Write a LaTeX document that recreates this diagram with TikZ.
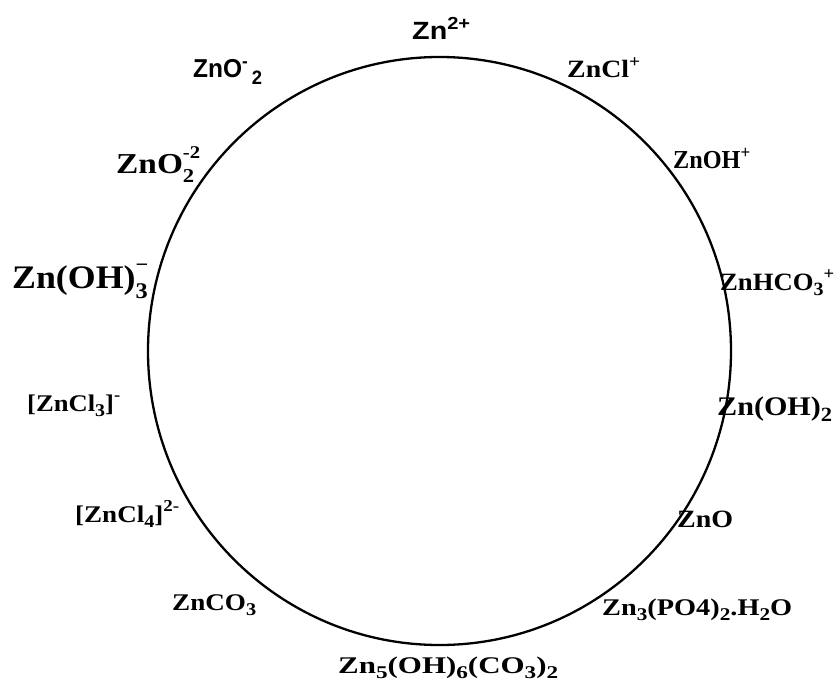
\documentclass[tikz,border=0pt]{standalone}
\usepackage{fontspec}
\usepackage{graphicx}
\setmainfont{Liberation Serif}
\newfontfamily\labsans{Liberation Sans}
\newcommand{\sps}[1]{\raisebox{0.42em}{\scalebox{0.7}{#1}}}
\newcommand{\sbs}[1]{\raisebox{-0.24em}{\scalebox{0.75}{#1}}}
\newcommand{\stk}[2]{\makebox[0pt][l]{\raisebox{-0.32em}{\scalebox{0.68}{#2}}}\raisebox{0.5em}{\scalebox{0.62}{#1}}}
\newcommand{\lw}[2]{\resizebox{#1bp}{\height}{#2}}
\begin{document}
\begin{tikzpicture}[x=1bp,y=-1bp,
  lab/.style={anchor=base west,inner sep=0pt,font=\fontsize{25}{27}\selectfont\bfseries},
  labs/.style={anchor=base west,inner sep=0pt,font=\fontsize{25}{27}\selectfont\labsans\bfseries}]
\useasboundingbox[fill=white] (0,0) rectangle (837,684);
\draw[line width=2.3bp] (439.5,351) ellipse [x radius=291.5, y radius=294];
\node[labs] (zn) at (412,40) {\lw{58}{Zn\sps{2+}}};
\node[labs,font=\fontsize{26}{28}\selectfont\labsans\bfseries] (zno2m) at (193,78) {\lw{69}{ZnO\sps{-}\,\sbs{2}}};
\node[lab] (zncl) at (567,78) {\lw{73}{ZnCl\sps{+}}};
\node[lab,font=\fontsize{29}{31}\selectfont\bfseries] (zno22) at (116,173) {\lw{84}{ZnO\stk{-2}{2}}};
\node[lab,font=\fontsize{26}{28}\selectfont\bfseries] (znoh) at (673,169) {\lw{77}{ZnOH\sps{+}}};
\node[lab,font=\fontsize{33}{35}\selectfont\bfseries] (znoh3) at (12,288) {\lw{136}{Zn(OH)\stk{\textminus}{3}}};
\node[lab] (znhco3) at (720,290) {\lw{114}{ZnHCO\sbs{3}\sps{+}}};
\node[lab,font=\fontsize{24}{26}\selectfont\bfseries] (zncl3) at (27,411) {\lw{93}{[ZnCl\sbs{3}]\sps{-}}};
\node[lab,font=\fontsize{27}{29}\selectfont\bfseries] (znoh2) at (717,415) {\lw{115}{Zn(OH)\sbs{2}}};
\node[lab,font=\fontsize{24}{26}\selectfont\bfseries] (zncl4) at (75,522) {\lw{104}{[ZnCl\sbs{4}]\sps{2-}}};
\node[lab] (zno) at (677,527) {\lw{56}{ZnO}};
\node[lab,font=\fontsize{24}{26}\selectfont\bfseries] (znco3) at (172,610) {\lw{84}{ZnCO\sbs{3}}};
\node[lab,font=\fontsize{24}{26}\selectfont\bfseries] (znpo) at (602,615) {\lw{190}{Zn\sbs{3}(PO4)\sbs{2}.H\sbs{2}O}};
\node[lab,font=\fontsize{24}{26}\selectfont\bfseries] (znohco) at (338,673) {\lw{220}{Zn\sbs{5}(OH)\sbs{6}(CO\sbs{3})\sbs{2}}};
\end{tikzpicture}
\end{document}
